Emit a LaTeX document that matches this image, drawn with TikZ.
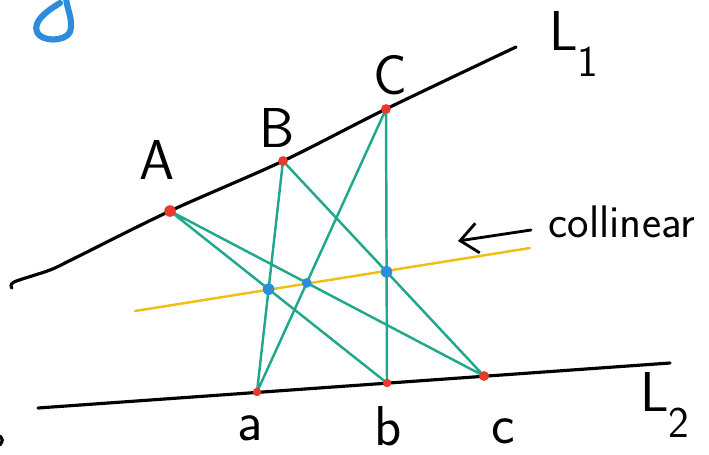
\documentclass[tikz,border=0pt]{standalone}
\usetikzlibrary{arrows.meta}
\definecolor{ptred}{RGB}{232,58,42}
\definecolor{ptgreen}{RGB}{32,168,140}
\definecolor{ptblue}{RGB}{45,140,220}
\definecolor{ptyellow}{RGB}{240,190,20}

\begin{document}
\begin{tikzpicture}[x=0.02cm, y=-0.02cm, line cap=round, line join=round,
        lbl/.style={font=\sffamily\fontsize{32}{32}\selectfont},
        cross/.style={ptgreen, line width=1.4pt}]
        \useasboundingbox (0,0) rectangle (709,454);
        \coordinate (A) at (170,211);
        \coordinate (B) at (283,161);
        \coordinate (C) at (386,109);
        \coordinate (a) at (257,392);
        \coordinate (b) at (387,383);
        \coordinate (c) at (484,376);
        % L1 and L2
        \draw[line width=1.8pt] plot[smooth] coordinates {(12,288) (14,282) (50,270) (75,258) (A) (B) (C) (516,47)};
        \draw[line width=1.8pt] (38,408) -- (670,363);
        \draw[cross] (A) -- (b) (A) -- (c) (B) -- (a) (B) -- (c) (C) -- (a) (C) -- (b);
        \coordinate (p) at (intersection of A--b and B--a);
        \coordinate (q) at (intersection of A--c and C--a);
        \coordinate (r) at (intersection of B--c and C--b);
        \draw[ptyellow, line width=1.4pt] (135,311) -- (530,248);
        \fill[ptred] (A) circle (3.3pt);
        \foreach \p in {B,C,c}
            \fill[ptred] (\p) circle (2.8pt);
        \foreach \p in {a,b}
            \fill[ptred] (\p) circle (2.4pt);
        \foreach \p in {p,r}
            \fill[ptblue] (\p) circle (3.3pt);
        \fill[ptblue] (q) circle (2.8pt);
        \node[lbl] (labA) at (157,160) {A};
        \node[lbl] (labB) at (277,128) {B};
        \node[lbl] (labC) at (390,75) {C};
        \node[lbl] (laba) at (250,428) {a};
        \node[lbl] (labb) at (388,426) {b};
        \node[lbl] (labc) at (503,431) {c};
        \node[lbl] (labL1) at (574,44) {L\raisebox{-0.45em}{\fontsize{25}{25}\selectfont 1}};
        \node[lbl] (labL2) at (665,405) {L\raisebox{-0.45em}{\fontsize{25}{25}\selectfont 2}};
        \node[lbl, font=\sffamily\fontsize{26}{26}\selectfont] (coll) at (622,222) {collinear};
        \coordinate (tail) at (531,230);
        \coordinate (tip) at (458,241);
        \draw[line width=1.6pt, -{Straight Barb[length=10pt, width=17pt]}] (tail) -- (tip);
        % cut-off marks at the edges
        \draw[ptblue, line width=3.5pt] (60,3) .. controls (45,12) and (33,22) .. (37,32)
            .. controls (41,42) and (65,42) .. (70,32) .. controls (74,20) and (66,8) .. (66,-4);
        \draw[line width=1.8pt] (0,436) .. controls (3,440) .. (0,445);
\end{tikzpicture}
\end{document}
